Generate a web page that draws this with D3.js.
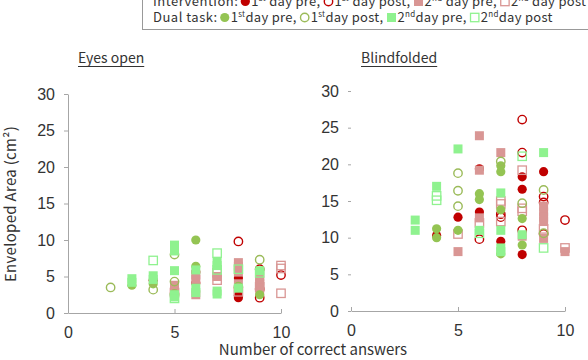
<!DOCTYPE html>
<html lang="en">
<head>
<meta charset="utf-8">
<script src="https://cdn.jsdelivr.net/npm/d3@7"></script>
<style>
  body { margin: 0; background: #fff; }
  svg { display: block; font-family: "Noto Sans CJK JP", "Noto Sans", sans-serif; }
</style>
</head>
<body>
<svg id="chart" width="588" height="360"></svg>
<script>
// ---- data: [correct answers, enveloped area cm2] ----
// Eyes open
var openInt1Pre  = [[4,4.5],[6,5.6],[6,4.1],[8,4.8],[8,2.4],[8,2.1]];
var openInt1Post = [[8,9.8],[9,6.0],[9,3.3],[9,2.1],[10,5.2]];
var openInt2Pre  = [[5,3.8],[5,3.0],[6,4.6],[6,5.2],[6,2.5],[7,5.0],[8,6.9],[8,6.4],[8,5.6],[8,4.0],[9,5.0],[9,4.4],[9,4.0],[9,3.0]];
var openInt2Post = [[5,2.8],[7,5.5],[7,4.5],[8,2.9],[9,3.6],[10,6.5],[10,6.1],[10,2.7]];
var openDt1Pre   = [[3,3.8],[4,4.0],[6,10.0],[6,6.4],[9,2.5],[5,2.4]];
var openDt1Post  = [[2,3.5],[4,3.2],[5,8.0],[5,4.3],[5,2.6],[9,7.3],[8,3.6]];
var openDt2Pre   = [[3,4.7],[3,4.2],[4,5.1],[4,4.6],[5,9.3],[5,8.5],[5,5.8],[5,2.5],[5,2.2],[6,5.9],[6,3.4],[6,2.8],[7,7.0],[7,6.5],[7,3.0],[7,2.6],[8,3.4],[9,5.8]];
var openDt2Post  = [[4,7.2],[5,2.0],[7,8.2],[7,5.9],[8,6.0],[9,5.5]];

// Blindfolded
var blindInt1Pre  = [[4,10.3],[5,12.8],[6,19.4],[6,13.5],[7,9.5],[8,18.3],[8,16.6],[8,7.7],[9,19.0]];
var blindInt1Post = [[6,9.8],[7,13.2],[7,12.8],[8,26.1],[8,21.6],[8,11.0],[9,15.6],[9,14.8],[9,10.5],[10,12.4]];
var blindInt2Pre  = [[5,8.1],[6,23.9],[6,19.2],[6,12.7],[7,21.6],[8,10.2],[9,14.3],[9,13.5],[9,12.8],[9,12.2],[9,9.9],[10,8.1]];
var blindInt2Post = [[5,10.5],[6,12.0],[7,15.0],[7,14.6],[7,12.2],[8,19.2],[8,14.0],[8,13.6],[9,11.2],[10,8.6]];
var blindDt1Pre   = [[4,11.2],[4,10.0],[5,11.0],[6,16.0],[6,15.2],[7,19.8],[7,19.0],[7,13.8],[7,7.8],[8,12.6],[8,9.0]];
var blindDt1Post  = [[5,18.8],[5,16.4],[5,14.3],[7,20.4],[8,14.7],[9,16.5],[9,10.6]];
var blindDt2Pre   = [[3,12.4],[3,11.0],[4,17.0],[5,22.1],[6,11.0],[7,16.1],[7,11.0],[7,8.6],[7,8.1],[8,10.4],[9,21.6]];
var blindDt2Post  = [[4,15.7],[4,15.1],[8,21.1],[9,8.6],[6,10.6]];

var xTicks = [0, 5, 10];
var yTicks = [0, 5, 10, 15, 20, 25, 30];

// marker styles, in legend order
var seriesStyle = [
  {shape:'circle', fill:true,  color:'#c00000'},
  {shape:'circle', fill:false, color:'#c00000'},
  {shape:'square', fill:true,  color:'#d99694'},
  {shape:'square', fill:false, color:'#d99694'},
  {shape:'circle', fill:true,  color:'#94c453'},
  {shape:'circle', fill:false, color:'#9bbb59'},
  {shape:'square', fill:true,  color:'#8ff28f'},
  {shape:'square', fill:false, color:'#8ff28f'}
];
var openSeries  = [openInt1Pre, openInt1Post, openInt2Pre, openInt2Post, openDt1Pre, openDt1Post, openDt2Pre, openDt2Post];
var blindSeries = [blindInt1Pre, blindInt1Post, blindInt2Pre, blindInt2Post, blindDt1Pre, blindDt1Post, blindDt2Pre, blindDt2Post];

var svg = d3.select('#chart');
var axisColor = '#a6a6a6';
var textColor = '#333';

function drawMarker(g, st, cx, cy) {
  if (st.shape === 'circle') {
    g.append('circle').attr('cx', cx).attr('cy', cy).attr('r', st.fill ? 4.6 : 4.2)
      .attr('fill', st.fill ? st.color : 'none')
      .attr('stroke', st.color).attr('stroke-width', st.fill ? 0 : 1.4);
  } else {
    var s = st.fill ? 9 : 8.4;
    g.append('rect').attr('x', cx - s/2).attr('y', cy - s/2).attr('width', s).attr('height', s)
      .attr('fill', st.fill ? st.color : 'none')
      .attr('stroke', st.color).attr('stroke-width', st.fill ? 0 : 1.3);
  }
}

function panel(series, xr, yr, title, showYLine) {
  var x = d3.scaleLinear().domain([0, 10]).range(xr);
  var y = d3.scaleLinear().domain([0, 30]).range(yr);

  var ya = svg.append('g').attr('transform', 'translate(' + xr[0] + ',0)')
    .call(d3.axisLeft(y).tickValues(yTicks).tickSizeInner(showYLine ? 4 : 3).tickSizeOuter(0).tickPadding(9));
  ya.select('.domain').attr('stroke', axisColor).attr('display', showYLine ? null : 'none');
  ya.selectAll('.tick line').attr('stroke', axisColor);
  ya.selectAll('.tick text').attr('font-size', 16).attr('fill', textColor).attr('font-family', null);

  var xa = svg.append('g').attr('transform', 'translate(0,' + yr[0] + ')')
    .call(d3.axisBottom(x).tickValues(xTicks).tickSizeInner(-4).tickSizeOuter(0).tickPadding(14));
  xa.select('.domain').attr('stroke', axisColor);
  xa.selectAll('.tick line').attr('stroke', axisColor);
  xa.selectAll('.tick text').attr('font-size', 16).attr('fill', textColor).attr('font-family', null);

  var g = svg.append('g');
  series.forEach(function(pts, i) {
    pts.forEach(function(p) { drawMarker(g, seriesStyle[i], x(p[0]), y(p[1])); });
  });

  var t = svg.append('text').attr('x', xr[0] + 10).attr('y', 63)
    .attr('font-size', 14).attr('fill', textColor).text(title);
  var w = t.node().getComputedTextLength();
  svg.append('line').attr('x1', xr[0] + 10).attr('x2', xr[0] + 10 + w)
    .attr('y1', 66.5).attr('y2', 66.5).attr('stroke', textColor).attr('stroke-width', 1);
}

panel(openSeries, [68, 281], [313, 94], 'Eyes open', true);
panel(blindSeries, [351, 565], [311, 91], 'Blindfolded', false);

svg.append('text').attr('transform', 'translate(16,204) rotate(-90)')
  .attr('text-anchor', 'middle').attr('font-size', 15).attr('fill', textColor)
  .attr('letter-spacing', 0.3)
  .text('Enveloped Area (cm²)');
svg.append('text').attr('x', 313).attr('y', 355)
  .attr('text-anchor', 'middle').attr('font-size', 15).attr('fill', textColor)
  .text('Number of correct answers');

// ---- legend ----
var legendRows = [
  {label: 'Intervention:', items: [['1','st',' day pre,'],['1','st',' day post,'],['2','nd',' day pre,'],['2','nd',' day post']], styles: [0,1,2,3]},
  {label: 'Dual task:',    items: [['1','st','day pre,'],['1','st','day post,'],['2','nd','day pre,'],['2','nd','day post']], styles: [4,5,6,7]}
];
var lg = svg.append('g');
lg.append('rect').attr('x', 142.5).attr('y', -6).attr('width', 470).attr('height', 35.5)
  .attr('fill', '#fff').attr('stroke', '#999');
legendRows.forEach(function(row, r) {
  var by = 6 + r * 16;
  var cx = 153;
  var lab = lg.append('text').attr('x', cx).attr('y', by).attr('font-size', 13).attr('fill', textColor)
    .attr('letter-spacing', 0.5).text(row.label);
  cx += lab.node().getComputedTextLength() + 7;
  row.items.forEach(function(it, k) {
    drawMarker(lg, seriesStyle[row.styles[k]], cx, by - 4.5);
    cx += 6;
    var t = lg.append('text').attr('x', cx).attr('y', by).attr('font-size', 13).attr('fill', textColor)
      .attr('letter-spacing', 0.3);
    t.append('tspan').text(it[0]);
    t.append('tspan').attr('font-size', 8).attr('dy', -5).text(it[1]);
    t.append('tspan').attr('dy', 5).text(it[2]);
    cx += t.node().getComputedTextLength() + 8;
  });
});
</script>
</body>
</html>
